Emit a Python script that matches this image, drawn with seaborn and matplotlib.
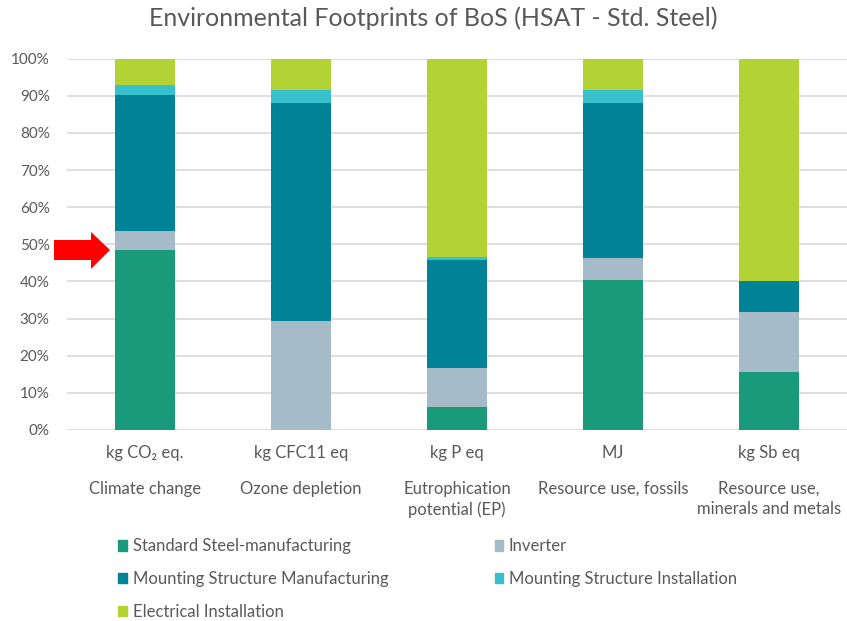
import matplotlib.pyplot as plt
import seaborn as sns
import pandas as pd
import numpy as np
from matplotlib.patches import Polygon, Patch

# data (share in %)
units = ['kg CO\u2082 eq.', 'kg CFC11 eq', 'kg P eq', 'MJ', 'kg Sb eq']
categories = ['Climate change', 'Ozone depletion', 'Eutrophication\npotential (EP)',
              'Resource use, fossils', 'Resource use,\nminerals and metals']
series = ['Standard Steel-manufacturing', 'Inverter', 'Mounting Structure Manufacturing',
          'Mounting Structure Installation', 'Electrical Installation']
steel = [48.6, 0.0, 6.3, 40.4, 15.5]
inverter = [5.1, 29.3, 10.3, 5.8, 16.4]
mount_mfg = [36.5, 58.8, 29.3, 41.9, 8.1]
mount_inst = [2.6, 3.4, 0.6, 3.4, 0.0]
electrical = [7.2, 8.5, 53.5, 8.5, 60.0]
colors = ['#199B7B', '#A6BBC8', '#018397', '#38C0CC', '#B3D335']

df = pd.DataFrame({'unit': units, series[0]: steel, series[1]: inverter,
                   series[2]: mount_mfg, series[3]: mount_inst, series[4]: electrical})
cum = df[series].cumsum(axis=1) / 100.0

sns.set_style('white')
plt.rcParams['font.family'] = ['Lato', 'DejaVu Sans']
grey = '#595959'

fig = plt.figure(figsize=(8.47, 6.21), dpi=100)
ax = fig.add_axes([0.0791, 0.3076, 0.9209, 0.5979])

# stacked: draw tallest cumulative first
for s, c in reversed(list(zip(series, colors))):
    sns.barplot(x=df['unit'], y=cum[s], color=c, width=0.39, saturation=1,
                ax=ax, linewidth=0, zorder=3)

ax.set_ylim(0, 1)
ax.set_xlim(-0.5, 4.5)
ax.set_yticks(np.arange(0, 1.01, 0.1))
ax.set_yticklabels([f'{int(round(v*100))}%' for v in np.arange(0, 1.01, 0.1)])
ax.yaxis.grid(True, color='#D9D9D9', linewidth=1.2, zorder=0)
ax.set_axisbelow(True)
for sp in ax.spines.values():
    sp.set_visible(False)
ax.tick_params(axis='both', length=0, colors=grey, labelsize=11)
ax.tick_params(axis='y', pad=12.5)
ax.tick_params(axis='x', pad=11, labelsize=12)
ax.set_xlabel('')
ax.set_ylabel('')

for i, cat in enumerate(categories):
    ax.text(i, -0.137, cat, transform=ax.get_xaxis_transform(), ha='center', va='top',
            fontsize=12, color=grey, linespacing=1.35)

fig.suptitle('Environmental Footprints of BoS (HSAT - Std. Steel)', x=0.512, y=0.99,
             fontsize=18, color=grey)

handles = [Patch(color=c) for c in colors]
order = [0, 2, 4, 1, 3]
fig.legend([handles[k] for k in order], [series[k] for k in order], ncol=2,
           loc='center left', bbox_to_anchor=(0.122, 1 - 579 / 621), frameon=False,
           fontsize=12, handlelength=0.5, handleheight=0.6, handletextpad=0.35,
           labelspacing=1.0, columnspacing=6.4, labelcolor=grey,
           bbox_transform=fig.transFigure)

# red arrow pointing at the steel share
W, H = 847, 621
pts = [(54, 240), (91, 240), (91, 232), (110, 250), (91, 269), (91, 260), (54, 260)]
fig.patches.append(Polygon([(x / W, 1 - y / H) for x, y in pts], closed=True,
                           facecolor='#FF0000', edgecolor='none',
                           transform=fig.transFigure, zorder=5))

fig.savefig('out.png', dpi=100)
